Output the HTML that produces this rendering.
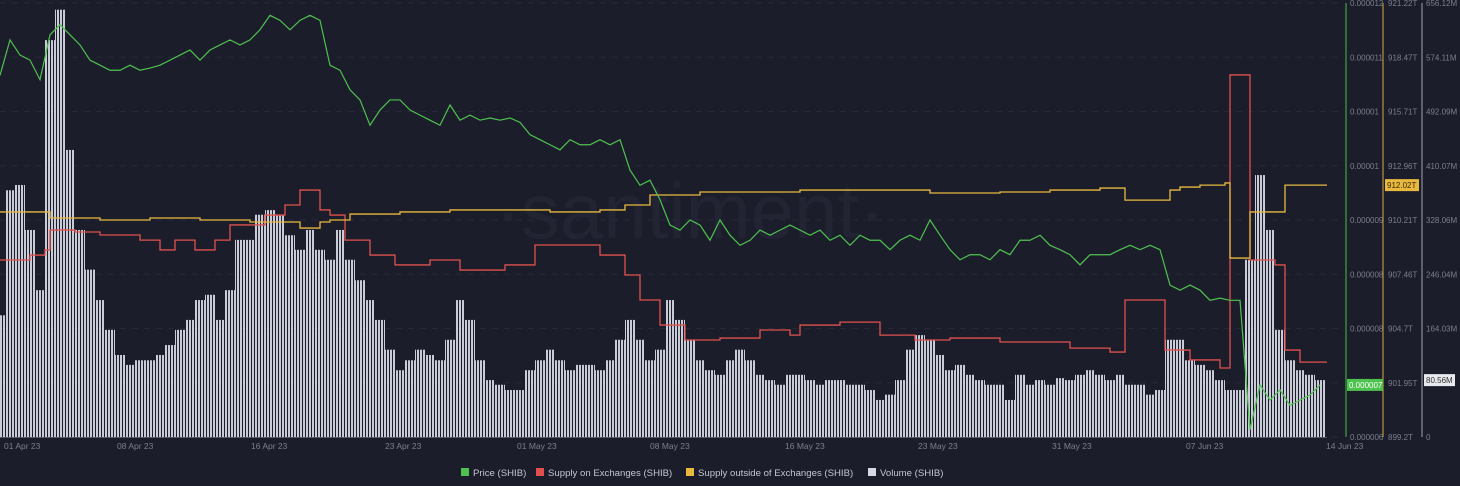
<!DOCTYPE html>
<html><head><meta charset="utf-8"><style>
body{margin:0;background:#1c1d2b;width:1460px;height:486px;overflow:hidden;font-family:"Liberation Sans",sans-serif}
svg{display:block}
text{font-family:"Liberation Sans",sans-serif}
</style></head><body>
<svg id="chart" width="1460" height="486" xmlns="http://www.w3.org/2000/svg">
<defs>
<pattern id="stripes" width="3" height="10" patternUnits="userSpaceOnUse">
<rect x="0" y="0" width="2" height="10" fill="#c9cbd6"/>
</pattern>
</defs>
<rect width="1460" height="486" fill="#1c1d2b"/>
<text x="690" y="238" font-size="78" fill="#222434" text-anchor="middle">·santiment·</text>
<g id="grid"></g>
<g id="vol"></g>
<g id="lines"></g>
<g id="axes"></g>
<g id="legend"></g>
</svg>
<script>
const volume=[184,373,381,313,222,600,646,434,313,253,207,162,124,109,116,116,124,139,162,177,207,215,177,222,298,298,336,343,336,305,283,313,283,268,313,268,237,207,177,132,101,116,132,124,116,147,207,177,116,86,79,71,71,101,116,132,116,101,109,109,101,116,147,177,147,116,132,207,177,147,116,101,94,116,132,116,94,86,79,94,94,86,79,86,86,79,79,71,56,64,86,132,154,147,124,101,109,94,86,79,79,56,94,79,86,79,89,86,94,101,94,86,94,79,79,64,71,147,147,116,109,101,86,71,71,268,396,313,162,116,101,94,86];
const price=[11.0,11.49,11.28,11.21,10.94,11.56,11.70,11.56,11.42,11.21,11.14,11.07,11.07,11.14,11.07,11.10,11.14,11.21,11.28,11.35,11.21,11.35,11.42,11.49,11.42,11.49,11.63,11.83,11.76,11.63,11.76,11.83,11.76,11.14,11.07,10.80,10.66,10.31,10.52,10.66,10.66,10.52,10.45,10.38,10.31,10.59,10.38,10.45,10.38,10.41,10.38,10.41,10.35,10.18,10.11,10.04,9.97,10.11,10.04,10.04,10.11,10.04,10.11,9.69,9.48,9.55,9.28,8.93,8.86,9.00,8.93,8.72,9.00,8.79,8.65,8.72,8.86,8.79,8.86,8.93,8.86,8.79,8.86,8.72,8.79,8.65,8.79,8.72,8.72,8.59,8.72,8.79,8.72,9.00,8.79,8.59,8.45,8.52,8.52,8.45,8.59,8.52,8.72,8.72,8.79,8.65,8.59,8.52,8.38,8.52,8.52,8.52,8.59,8.65,8.59,8.65,8.59,8.10,8.03,8.10,8.03,7.89,7.92,7.89,7.89,6.10,6.72,6.51,6.65,6.44,6.51,6.58,6.72];
const redT=[0,3,4.5,5,7.5,10,14,16,17.5,19.5,21.5,23,26.5,28.5,30,32,33,34.5,37,39.5,43,46,50.5,53.5,60,62.5,64,66,68.5,72,76,79,80,84,88,91.5,95,100,107,111,112.5,116,116.5,119,122,123,124.5,125,127.5,128.5,130,132.7];
const redV=[908.18,908.43,908.69,909.70,909.60,909.45,909.19,908.69,909.19,908.69,909.19,909.96,910.46,910.97,911.73,910.72,910.46,909.19,908.43,907.93,908.18,907.67,907.93,908.94,908.43,907.42,906.15,904.88,904.12,904.22,904.63,904.37,904.88,905.03,904.37,904.12,904.22,904.02,903.71,903.51,906.15,906.15,903.61,903.11,902.70,917.57,917.57,908.18,907.93,903.61,903.00,903.00];
const yelT=[0,5,10,15,20,25,30,32,33,35,40,45,50,55,60,62.5,65,70,80,90,93,100,105,110,112.5,116,117,118,120,122.5,123,124.5,125,128,128.5,132.7];
const yelV=[910.62,910.31,910.21,910.31,910.21,910.11,909.80,910.11,910.21,910.51,910.62,910.72,910.72,910.62,910.72,910.97,911.48,911.63,911.73,911.73,911.58,911.63,911.73,911.83,911.22,911.22,911.73,911.88,911.98,912.09,908.28,908.28,910.62,910.62,911.98,911.98];
const priceTicks=["0.000012","0.000011","0.00001","0.00001","0.000009","0.000008","0.000008","0.000007","0.000006"];
const supTicks=["921.22T","918.47T","915.71T","912.96T","910.21T","907.46T","904.7T","901.95T","899.2T"];
const volTicks=["656.12M","574.11M","492.09M","410.07M","328.06M","246.04M","164.03M","82.02M","0"];
const dateLabels=["01 Apr 23","08 Apr 23","16 Apr 23","23 Apr 23","01 May 23","08 May 23","16 May 23","23 May 23","31 May 23","07 Jun 23","14 Jun 23"];
const dateX=[4,117,251,385,517,650,785,918,1052,1186,1326];
const legendItems=["Price (SHIB)","Supply on Exchanges (SHIB)","Supply outside of Exchanges (SHIB)","Volume (SHIB)"];
const legendColors=["#4ec24e","#e0514e","#e8b83f","#d6d8e2"];

const NS="http://www.w3.org/2000/svg";
const T=3,B=437;
const xS=t=>t*10;
const yP=v=>B-(v-6)/6*(B-T);
const yS=v=>B-(v-899.2)/22.02*(B-T);
const yV=v=>B-v/656.12*(B-T);
function mk(tag,attrs,parent){const e=document.createElementNS(NS,tag);for(const k in attrs)e.setAttribute(k,attrs[k]);parent.appendChild(e);return e;}
const grid=document.getElementById('grid'),vol=document.getElementById('vol'),lines=document.getElementById('lines'),axes=document.getElementById('axes'),legend=document.getElementById('legend');
for(let i=0;i<9;i++){const y=T+i*(B-T)/8;
 const g=mk('line',{x1:0,x2:1340,y1:y,y2:y,stroke:'#262838','stroke-dasharray':'6 6'},grid);
 
 
 const a=mk('text',{x:1350,y:y+3,'font-size':8,fill:'#7b7f8e'},axes);a.textContent=priceTicks[i];
 
 
 const b=mk('text',{x:1388,y:y+3,'font-size':8,fill:'#7b7f8e'},axes);b.textContent=supTicks[i];
 
 
 if(i!=7){const c=mk('text',{x:1426,y:y+3,'font-size':8,fill:'#7b7f8e'},axes);c.textContent=volTicks[i];
 
 }
}
volume.forEach((v,i)=>{const x0=Math.max(0,xS(i)-5),x1=Math.min(1327,xS(i)+5);
 const r=mk('rect',{x:x0,y:yV(v),width:x1-x0,height:B-yV(v),fill:'url(#stripes)'},vol);
 
 });
function stepPath(ts,vs,ys){let d='';ts.forEach((t,i)=>{const x=xS(t),y=ys(vs[i]);if(i==0)d+='M'+x+','+y;else d+='H'+x+'V'+y;});return d;}
const rp=mk('path',{d:stepPath(redT,redV,yS),fill:'none',stroke:'#e0514e','stroke-width':1.3},lines);


const yp=mk('path',{d:stepPath(yelT,yelV,yS),fill:'none',stroke:'#e8b83f','stroke-width':1.3},lines);


const pp=mk('path',{d:price.map((v,i)=>(i?'L':'M')+xS(i)+','+yP(v)).join(''),fill:'none',stroke:'#4ec24e','stroke-width':1.2},lines);


[[1346,'#3fa33f'],[1383,'#b8923a'],[1422,'#8a8d99']].forEach(([x,c])=>{const l=mk('line',{x1:x,x2:x,y1:T,y2:B,stroke:c,'stroke-width':1.2},axes);
 
 });
const bl=mk('line',{x1:0,x2:1327,y1:B+0.5,y2:B+0.5,stroke:'#555866'},axes);


dateLabels.forEach((d,i)=>{const t=mk('text',{x:dateX[i],y:449,'font-size':8.5,fill:'#7b7f8e'},axes);t.textContent=d;
 
 });
function badge(x,y,w,bg,fg,txt,name){const g=mk('g',{},axes);
 
 
 mk('rect',{x:x,y:y-6,width:w,height:12,fill:bg},g);const t=mk('text',{x:x+2,y:y+3,'font-size':8,fill:fg},g);t.textContent=txt;}
badge(1347,yP(price[price.length-1]),36,'#4ec24e','#fff','0.000007','price-badge');
badge(1385,yS(yelV[yelV.length-1]),34,'#e8b83f','#3a2a00','912.02T','supply-badge');
badge(1424,yV(volume[volume.length-1]),31,'#e8e9ee','#333','80.56M','volume-badge');
const lx=[461,536,686,868];
legendItems.forEach((s,i)=>{const g=mk('g',{},legend);
 
 
 mk('rect',{x:lx[i],y:468,width:8,height:8,fill:legendColors[i]},g);
 const t=mk('text',{x:lx[i]+12,y:476,'font-size':9.6,fill:'#c3c6cf'},g);t.textContent=s;});
</script>
</body></html>
